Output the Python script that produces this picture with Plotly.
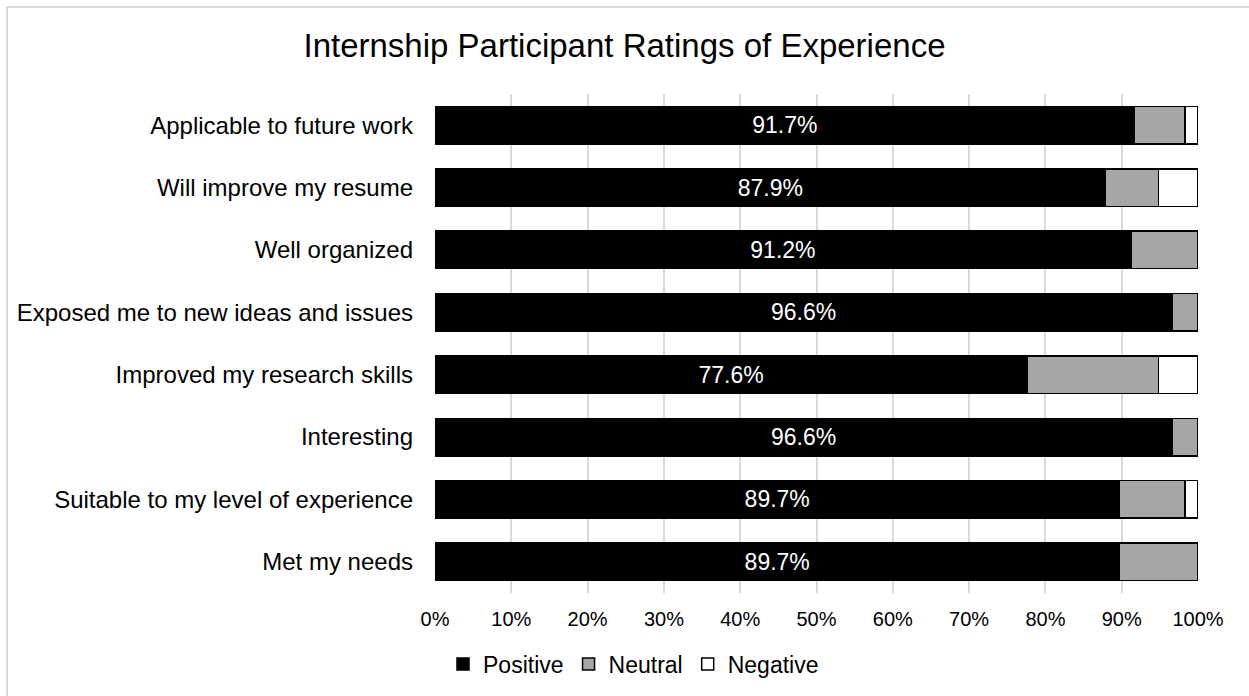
import plotly.graph_objects as go

categories = [
    "Applicable to future work",
    "Will improve my resume",
    "Well organized",
    "Exposed me to new ideas and issues",
    "Improved my research skills",
    "Interesting",
    "Suitable to my level of experience",
    "Met my needs",
]
positive = [91.7, 87.9, 91.2, 96.6, 77.6, 96.6, 89.7, 89.7]
neutral = [6.6, 6.9, 8.8, 3.4, 17.2, 3.4, 8.6, 10.3]
negative = [1.7, 5.2, 0.0, 0.0, 5.2, 0.0, 1.7, 0.0]
tick_vals = [0, 10, 20, 30, 40, 50, 60, 70, 80, 90, 100]
tick_text = [f"{v}%" for v in tick_vals]

W, H = 1249, 696
L, R, T, B = 435, 51, 94, 103
pw, ph = W - L - R, H - T - B

FONT = "Liberation Sans, Arial, sans-serif"
line = dict(color="black", width=1.5)

fig = go.Figure()
fig.add_trace(go.Bar(
    y=categories, x=positive, name="Positive", orientation="h",
    marker=dict(color="black", line=line),
    text=[f"{v:.1f}%" for v in positive], textposition="inside",
    insidetextanchor="middle", textangle=0,
    textfont=dict(color="white", size=23, family=FONT),
    hoverinfo="x+y",
))
fig.add_trace(go.Bar(
    y=categories, x=neutral, name="Neutral", orientation="h",
    marker=dict(color="#a6a6a6", line=line),
))
fig.add_trace(go.Bar(
    y=categories, x=negative, name="Negative", orientation="h",
    marker=dict(color="white", line=line),
))

# outer chart border (light gray), extending past the right/bottom edge
def px_x(p):
    return (p - L) / pw

def px_y(p):
    return 1 - (p - T) / ph

fig.add_shape(type="rect", xref="paper", yref="paper",
              x0=px_x(7), x1=px_x(1260), y0=px_y(7), y1=px_y(710),
              line=dict(color="#d9d9d9", width=2), fillcolor="rgba(0,0,0,0)",
              layer="below")

fig.update_layout(
    width=W, height=H,
    margin=dict(l=L, r=R, t=T, b=B, autoexpand=False),
    barmode="stack", bargap=0.4,
    paper_bgcolor="white", plot_bgcolor="white",
    font=dict(family=FONT, color="black"),
    title=dict(text="Internship Participant Ratings of Experience",
               x=0.5, xanchor="center", xref="container",
               y=1 - 45 / H, yanchor="middle",
               font=dict(size=33, family=FONT, color="black")),
    showlegend=True,
    legend=dict(orientation="h", x=px_x(443), xanchor="left",
                y=px_y(664), yanchor="middle",
                font=dict(size=23, family=FONT, color="black"),
                itemwidth=30, traceorder="normal",
                bgcolor="rgba(0,0,0,0)"),
    xaxis=dict(range=[0, 100], tickvals=tick_vals, ticktext=tick_text,
               showgrid=True, gridcolor="#d9d9d9", gridwidth=2,
               zeroline=False, showline=False, ticks="",
               tickfont=dict(size=20, family=FONT, color="black"),
               ticklabelstandoff=12, fixedrange=True),
    yaxis=dict(autorange="reversed", showgrid=False, zeroline=False,
               showline=False, ticks="",
               tickfont=dict(size=24, family=FONT, color="black"),
               ticklabelstandoff=21, fixedrange=True),
)

fig.write_html("out.html")
